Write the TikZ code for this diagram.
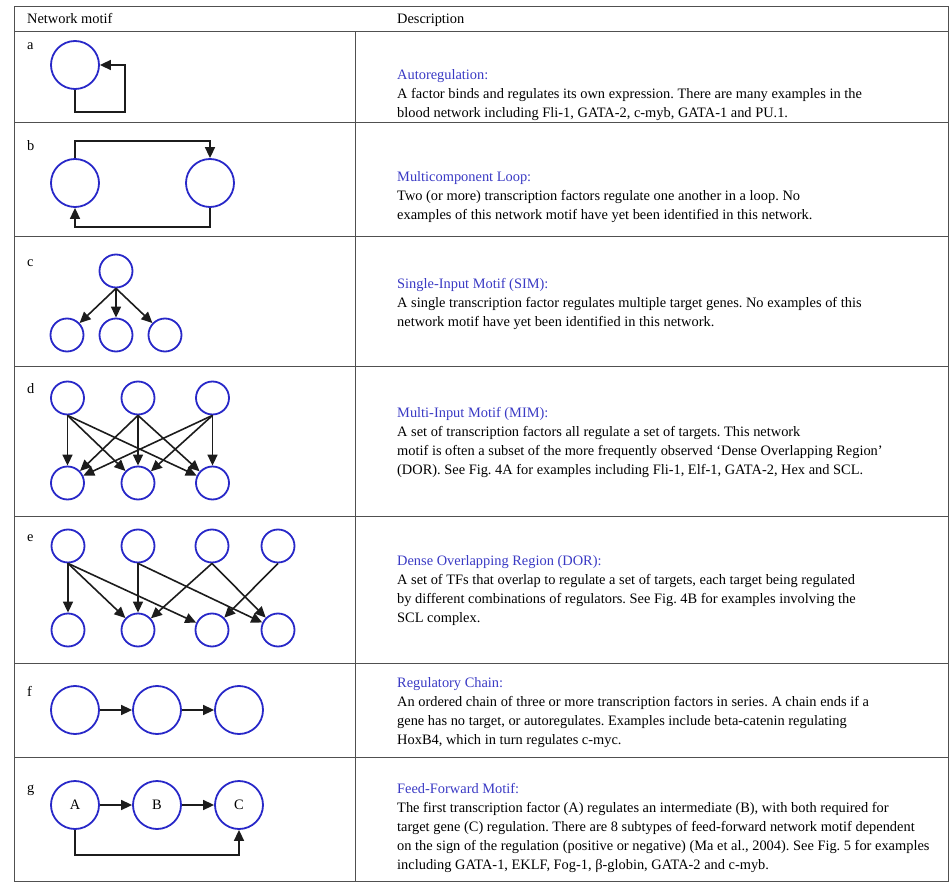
\documentclass[tikz,border=0pt]{standalone}
\usepackage{fontspec}
\setmainfont{Liberation Serif}
\usepackage{tikz}
\usetikzlibrary{arrows.meta,positioning}
\definecolor{motifBlue}{HTML}{2828C8}
\definecolor{titleBlue}{HTML}{3A3AC4}
\definecolor{ruleGray}{HTML}{505050}
\definecolor{linkBlack}{HTML}{1C1C1C}
\frenchspacing

\begin{document}
\begin{tikzpicture}[
    x=1pt,y=-1pt,
    every node/.style={font=\fontsize{14.4}{19}\selectfont},
    gene/.style={circle,draw=motifBlue,line width=1.8pt,minimum size=48pt,inner sep=0pt},
    tf/.style={circle,draw=motifBlue,line width=1.8pt,minimum size=33pt,inner sep=0pt},
    reg/.style={draw=linkBlack,line width=1.6pt,-{Triangle[length=11pt,width=10pt]}},
    rule/.style={draw=ruleGray,line width=1pt},
    tag/.style={anchor=base west,inner sep=0pt},
    desc/.style={anchor=north west,inner sep=0pt,align=left}
  ]
  \useasboundingbox (0,0) rectangle (951,885);
  %% Table frame
  \draw[rule] (14,7) rectangle (948,881);
  \foreach \y in {32,123,237,367,516,663,757}
    \draw[rule] (14,\y) -- (948,\y);
  \draw[rule] (355,32) -- (355,881);
  \node[tag] (hmotif) at (27,24) {Network motif};
  \node[tag] (hdesc) at (397,24) {Description};
  %% Row labels
  \node[tag] (la) at (27,50) {a};
  \node[tag] (lb) at (27,151) {b};
  \node[tag] (lc) at (27,267) {c};
  \node[tag] (ld) at (27,394) {d};
  \node[tag] (le) at (27,541) {e};
  \node[tag] (lf) at (27,696) {f};
  \node[tag] (lg) at (27,792) {g};
  %% a: autoregulation
  \node[gene] (a1) at (75,65) {};
  \coordinate (aloop) at (125,112);
  \draw[reg] (a1.south) |- (aloop) |- (a1.east);
  %% b: multicomponent loop
  \node[gene] (b1) at (75,183) {};
  \node[gene] (b2) at (210,183) {};
  \draw[reg] (b1.north) -- ++(0,-17) -| (b2.north);
  \draw[reg] (b2.south) -- ++(0,19) -| (b1.south);
  %% c: single-input motif
  \node[tf] (c0) at (116,271) {};
  \node[tf] (c1) at (67,335) {};
  \node[tf] (c2) at (116,335) {};
  \node[tf] (c3) at (165,335) {};
  \foreach \t in {c1,c2,c3}
    \draw[reg] (c0.south) -- (\t);
  %% d: multi-input motif
  \node[tf] (d1) at (67.5,398) {};
  \node[tf] (d2) at (138,398) {};
  \node[tf] (d3) at (212.5,398) {};
  \node[tf] (d4) at (67.5,483) {};
  \node[tf] (d5) at (138,483) {};
  \node[tf] (d6) at (212.5,483) {};
  \foreach \s in {d1,d2,d3}
    \foreach \t in {d4,d5,d6}
      \draw[reg] (\s.south) -- (\t);
  %% e: dense overlapping region
  \node[tf] (e1) at (68,546) {};
  \node[tf] (e2) at (138,546) {};
  \node[tf] (e3) at (212,546) {};
  \node[tf] (e4) at (278,546) {};
  \node[tf] (e5) at (68,630) {};
  \node[tf] (e6) at (138,630) {};
  \node[tf] (e7) at (212,630) {};
  \node[tf] (e8) at (278,630) {};
  \foreach \s/\t in {e1/e5,e1/e6,e1/e7,e2/e6,e2/e8,e3/e6,e3/e8,e4/e7}
    \draw[reg] (\s.south) -- (\t);
  %% f: regulatory chain
  \node[gene] (f1) at (75,710) {};
  \node[gene] (f2) at (157,710) {};
  \node[gene] (f3) at (239,710) {};
  \draw[reg] (f1) -- (f2);
  \draw[reg] (f2) -- (f3);
  %% g: feed-forward motif
  \node[gene] (ga) at (75,805) {A};
  \node[gene] (gb) at (157,805) {B};
  \node[gene] (gc) at (239,805) {C};
  \draw[reg] (ga) -- (gb);
  \draw[reg] (gb) -- (gc);
  \draw[reg] (ga.south) -- ++(0,25) -| (gc.south);
  %% Descriptions
  \node[desc] (ta) at (397,65.7) {\strut\textcolor{titleBlue}{Autoregulation:}\\
    A factor binds and regulates its own expression. There are many examples in the\\
    blood network including Fli-1, GATA-2, c-myb, GATA-1 and PU.1.};
  \node[desc] (tb) at (397,167.7) {\strut\textcolor{titleBlue}{Multicomponent Loop:}\\
    Two (or more) transcription factors regulate one another in a loop. No\\
    examples of this network motif have yet been identified in this network.};
  \node[desc] (tc) at (397,274.7) {\strut\textcolor{titleBlue}{Single-Input Motif (SIM):}\\
    A single transcription factor regulates multiple target genes. No examples of this\\
    network motif have yet been identified in this network.};
  \node[desc] (td) at (397,403.7) {\strut\textcolor{titleBlue}{Multi-Input Motif (MIM):}\\
    A set of transcription factors all regulate a set of targets. This network\\
    motif is often a subset of the more frequently observed ‘Dense Overlapping Region’\\
    (DOR). See Fig. 4A for examples including Fli-1, Elf-1, GATA-2, Hex and SCL.};
  \node[desc] (te) at (397,551.7) {\strut\textcolor{titleBlue}{Dense Overlapping Region (DOR):}\\
    A set of TFs that overlap to regulate a set of targets, each target being regulated\\
    by different combinations of regulators. See Fig. 4B for examples involving the\\
    SCL complex.};
  \node[desc] (tf) at (397,673.7) {\strut\textcolor{titleBlue}{Regulatory Chain:}\\
    An ordered chain of three or more transcription factors in series. A chain ends if a\\
    gene has no target, or autoregulates. Examples include beta-catenin regulating\\
    HoxB4, which in turn regulates c-myc.};
  \node[desc] (tg) at (397,779.7) {\strut\textcolor{titleBlue}{Feed-Forward Motif:}\\
    The first transcription factor (A) regulates an intermediate (B), with both required for\\
    target gene (C) regulation. There are 8 subtypes of feed-forward network motif dependent\\
    on the sign of the regulation (positive or negative) (Ma et al., 2004). See Fig. 5 for examples\\
    including GATA-1, EKLF, Fog-1, β-globin, GATA-2 and c-myb.};
\end{tikzpicture}
\end{document}
